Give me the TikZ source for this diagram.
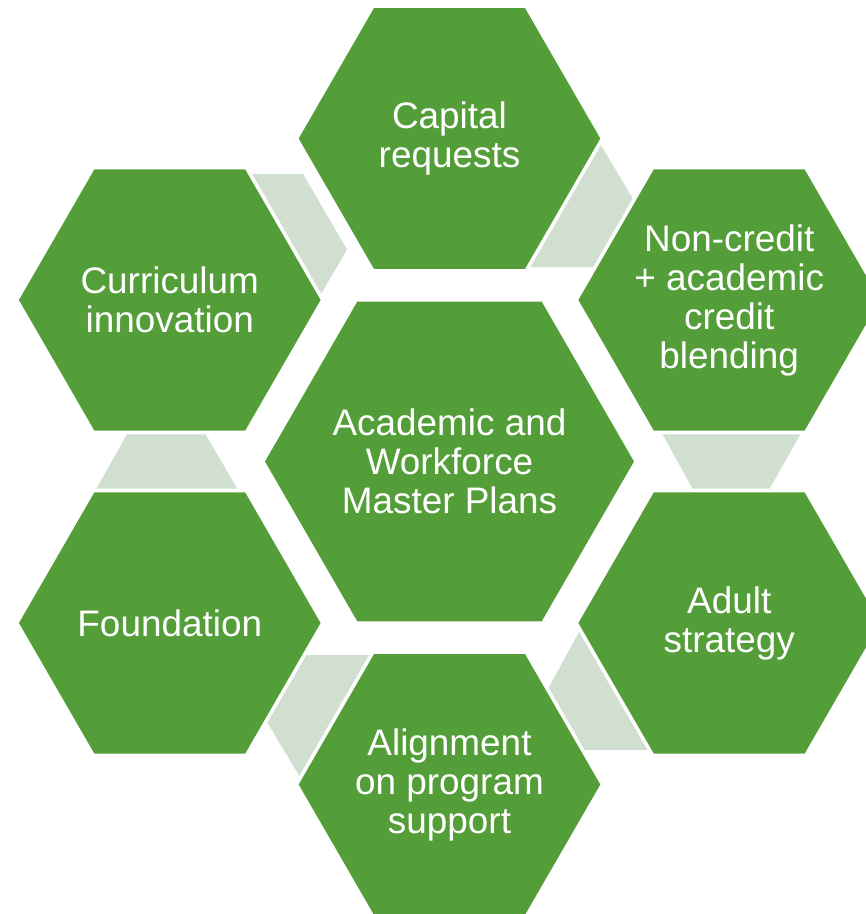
\documentclass[tikz,border=0pt]{standalone}
\usepackage{fontspec}
\setmainfont{Liberation Sans}
\usepackage{tikz}

\definecolor{hexgreen}{RGB}{84,158,57}
\definecolor{hexlink}{RGB}{209,223,208}

\begin{document}
\begin{tikzpicture}[
    hexcell/.style={fill=hexgreen, draw=white, line width=1pt},
    hubcell/.style={fill=hexgreen},
    linkcell/.style={fill=hexlink},
    celltext/.style={text=white, align=center, font=\fontsize{10.5}{11.1}\selectfont}]

    \useasboundingbox (0,0) rectangle (8.66,9.14);

    % Centre of the cluster
    \coordinate (hub) at (4.495,4.525);

    % Light link cells, drawn first so the outer cells cover their ends
    % curriculum -- capital
    \fill[linkcell] (2.38,7.40) -- (3.03,7.40) -- (3.47,6.645) -- (3.14,6.08) -- cycle;
    % capital -- non-credit
    \fill[linkcell] (5.95,7.79) -- (6.395,7.04) -- (6.10,6.47) -- (5.20,6.47) -- cycle;
    % non-credit -- adult
    \fill[linkcell] (6.575,4.89) -- (8.057,4.89) -- (7.643,4.16) -- (6.975,4.16) -- cycle;
    % adult -- alignment
    \fill[linkcell] (5.855,2.94) -- (6.60,1.64) -- (5.70,1.64) -- (5.436,2.17) -- cycle;
    % alignment -- foundation
    \fill[linkcell] (2.92,2.59) -- (3.80,2.59) -- (3.06,1.27) -- (2.61,2.02) -- cycle;
    % foundation -- curriculum
    \fill[linkcell] (1.323,4.89) -- (2.002,4.89) -- (2.426,4.16) -- (0.91,4.16) -- cycle;

    % Outer cells with a white rim
    \foreach \a/\name in {90/capital, 30/noncredit, -30/adult, -90/align, -150/found, 150/curric} {
        \path (hub) ++(\a:3.23) coordinate (\name);
        \filldraw[hexcell] (\name) ++(0:1.53) -- ++(120:1.53) -- ++(180:1.53)
            -- ++(240:1.53) -- ++(300:1.53) -- ++(0:1.53) -- cycle;
    }

    % Central cell
    \fill[hubcell] (hub) ++(0:1.845) -- ++(120:1.845) -- ++(180:1.845)
        -- ++(240:1.845) -- ++(300:1.845) -- ++(0:1.845) -- cycle;

    % Labels
    \node[celltext] (hubtext) at (hub) {Academic and\\Workforce\\Master Plans};
    \node[celltext] (capitaltext) at (capital) {Capital\\requests};
    \node[celltext] (noncredittext) at (noncredit) {Non-credit\\+ academic\\credit\\blending};
    \node[celltext] (adulttext) at (adult) {Adult\\strategy};
    \node[celltext] (aligntext) at (align) {Alignment\\on program\\support};
    \node[celltext] (foundtext) at (found) {Foundation};
    \node[celltext] (currictext) at (curric) {Curriculum\\innovation};

\end{tikzpicture}
\end{document}
